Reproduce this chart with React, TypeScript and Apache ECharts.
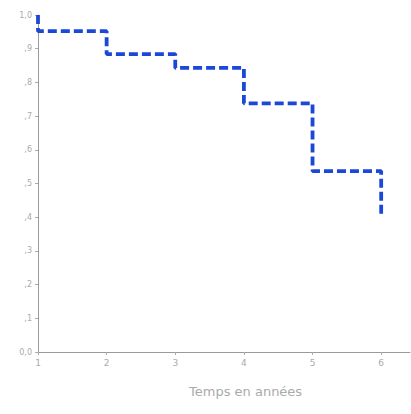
import React, { useEffect, useRef } from "react";
import * as echarts from "echarts";

const times = [1, 2, 3, 4, 5, 6];
const levelsBefore = [1.0, 0.952, 0.884, 0.843, 0.738, 0.537];
const levelsAfter = [0.952, 0.884, 0.843, 0.738, 0.537, 0.41];
const xTicks = [1, 2, 3, 4, 5, 6];
const yTickLabels = ["0,0", ",1", ",2", ",3", ",4", ",5", ",6", ",7", ",8", ",9", "1,0"];
const xTitle = "Temps en années";

export default function App() {
  const ref = useRef<HTMLDivElement>(null);
  useEffect(() => {
    if (!ref.current) return;
    const chart = echarts.init(ref.current, undefined, { renderer: "svg" });
    const pts: number[][] = [];
    times.forEach((t, i) => {
      pts.push([t, levelsBefore[i]]);
      pts.push([t, levelsAfter[i]]);
      if (i < times.length - 1) pts.push([times[i + 1], levelsAfter[i]]);
    });
    chart.setOption({
      animation: false,
      backgroundColor: "#fff",
      grid: { left: 38, top: 15, bottom: 62, right: 1, containLabel: false },
      xAxis: {
        type: "value",
        min: 1,
        max: 6.42,
        interval: 1,
        axisLine: { show: true, lineStyle: { color: "#9a9a9a", width: 1 } },
        axisTick: { show: true, length: 3, lineStyle: { color: "#aaa" }, customValues: xTicks },
        axisLabel: {
          color: "#aaa",
          fontSize: 9,
          margin: 6,
          fontFamily: "DejaVu Sans",
          customValues: xTicks,
        },
        splitLine: { show: false },
      },
      yAxis: {
        type: "value",
        min: 0,
        max: 1,
        interval: 0.1,
        axisLine: { show: true, lineStyle: { color: "#9a9a9a", width: 1 } },
        axisTick: { show: true, length: 3, lineStyle: { color: "#aaa" } },
        axisLabel: {
          color: "#aaa",
          fontSize: 8,
          margin: 6,
          fontFamily: "DejaVu Sans",
          formatter: (v: number) => yTickLabels[Math.round(v * 10)] ?? "",
        },
        splitLine: { show: false },
      },
      graphic: [
        {
          type: "text",
          left: 189,
          top: 385,
          style: { text: xTitle, fill: "#aaa", fontSize: 13, fontFamily: "DejaVu Sans" },
        },
      ],
      series: [
        {
          type: "line",
          data: pts,
          showSymbol: false,
          lineStyle: { color: "#1c48d8", width: 3.8, type: [9, 4] },
        },
      ],
    });
    return () => chart.dispose();
  }, []);
  return (
    <div
      ref={ref}
      style={{ position: "fixed", left: 0, top: 0, width: 411, height: 414 }}
    />
  );
}
